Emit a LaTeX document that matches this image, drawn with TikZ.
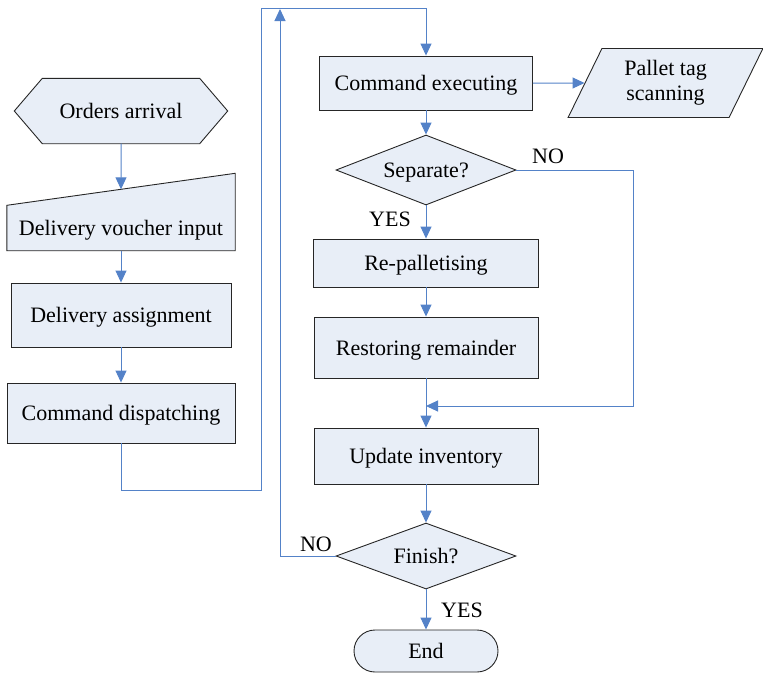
\documentclass[tikz,border=0pt]{standalone}
\usepackage{fontspec}
\setmainfont{Liberation Serif}
\usetikzlibrary{shapes.geometric, shapes.misc, arrows.meta, calc, backgrounds}
\definecolor{boxfill}{RGB}{232,238,247}
\definecolor{linkblue}{RGB}{84,130,200}

\begin{document}
\begin{tikzpicture}[x=1pt,y=-1pt]
\tikzstyle{boxline} = [draw=black!85, fill=boxfill, line width=0.9pt]
\tikzstyle{process} = [rectangle, boxline, inner sep=0pt, text depth=0pt, font=\fontsize{22}{25}\selectfont]
\tikzstyle{plain} = [rectangle, inner sep=0pt, text depth=0pt, font=\fontsize{22}{25}\selectfont]
\tikzstyle{decision} = [diamond, boxline, aspect=2.5, inner sep=0pt, text depth=0pt, font=\fontsize{22}{25}\selectfont]
\tikzstyle{io} = [trapezium, trapezium left angle=64, trapezium right angle=116, trapezium stretches=true, boxline, inner sep=0pt, align=center, font=\fontsize{22}{25}\selectfont]
\tikzstyle{startstop} = [rounded rectangle, boxline, inner sep=0pt, text depth=0pt, font=\fontsize{22}{25}\selectfont]
\tikzstyle{tag} = [inner sep=0pt, font=\fontsize{22}{25}\selectfont]
\tikzstyle{link} = [draw=linkblue, line width=1pt]
\tikzstyle{arrow} = [link, -{Triangle[width=11pt,length=12pt]}]

\useasboundingbox (0,0) rectangle (763,673);

% left column
\node (orders) [plain, minimum width=157pt, minimum height=65pt] at (121,111) {Orders arrival};
\node (voucher) [plain, minimum width=228pt, minimum height=45pt] at (121,228) {Delivery voucher input};
\node (assign) [process, minimum width=220pt, minimum height=64pt] at (121,315) {Delivery assignment};
\node (dispatch) [process, minimum width=228pt, minimum height=60pt] at (121,413) {Command dispatching};

\begin{scope}[on background layer]
\draw [boxline] (orders.north west) -- (orders.north east) -- ([xshift=28pt]orders.east)
  -- (orders.south east) -- (orders.south west) -- ([xshift=-28pt]orders.west) -- cycle;
\draw [boxline] (voucher.south west) -- (voucher.south east) -- ([yshift=32pt]voucher.north east)
  -- (voucher.north west) -- cycle;
\end{scope}
\coordinate (vtop) at ($(voucher.north west)!0.5!([yshift=32pt]voucher.north east)$);

% right column
\node (exec) [process, minimum width=213pt, minimum height=54pt] at (426,83) {Command executing};
\node (pallet) [io, minimum width=195pt, minimum height=69pt] at (665.5,83) {Pallet tag\\scanning};
\node (sep) [decision, minimum width=180pt, minimum height=70pt] at (426,170) {Separate?};
\node (repal) [process, minimum width=225pt, minimum height=48pt] at (426,263) {Re-palletising};
\node (restore) [process, minimum width=224pt, minimum height=61pt] at (426,347.5) {Restoring remainder};
\node (update) [process, minimum width=224pt, minimum height=56pt] at (426,456) {Update inventory};
\node (finish) [decision, minimum width=180pt, minimum height=66pt] at (426,556) {Finish?};
\node (stop) [startstop, minimum width=144pt, minimum height=42pt] at (426,651) {End};

% branch labels
\node (sepno) [tag] at (548,156) {NO};
\node (sepyes) [tag] at (390,219) {YES};
\node (finno) [tag] at (316,544) {NO};
\node (finyes) [tag] at (462,610) {YES};

\coordinate (turnA) at (261,490);
\coordinate (turnB) at (261,8);
\coordinate (backtop) at (280,9);
\coordinate (septurn) at (633,406);
\coordinate (merge) at (426,406);

\draw [arrow] (orders) -- (vtop);
\draw [arrow] (voucher) -- (assign);
\draw [arrow] (assign) -- (dispatch);
\draw [arrow] (dispatch.south) |- (turnA) -- (turnB) -| (exec.north);
\draw [arrow] (exec) -- (pallet);
\draw [arrow] (exec) -- (sep);
\draw [arrow] (sep) -- (repal);
\draw [arrow] (repal) -- (restore);
\draw [arrow] (restore) -- (update);
\draw [arrow] (sep.east) -| (septurn) -- (merge);
\draw [arrow] (update) -- (finish);
\draw [arrow] (finish) -- (stop);
\draw [arrow] (finish.west) -| (backtop);
\end{tikzpicture}
\end{document}
